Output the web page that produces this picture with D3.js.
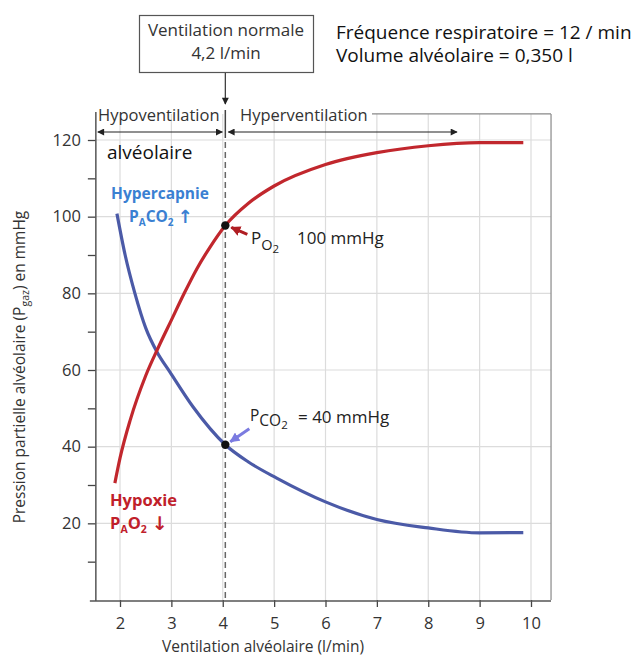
<!DOCTYPE html>
<html>
<head>
<meta charset="utf-8">
<script src="https://cdn.jsdelivr.net/npm/d3@7"></script>
<style>
  body { margin: 0; background: #fff; }
  text { font-family: "Open Sans", sans-serif; }
</style>
</head>
<body>
<svg width="636" height="657"></svg>
<script>
// courbes PAO2 / PACO2 selon la ventilation alvéolaire

var po2Vent = [1.9, 2.0, 2.2, 2.5, 2.75, 3.0, 3.25, 3.5, 3.75, 4.05, 4.5, 5, 6, 7, 8, 9, 9.85];
var po2 = [30.5, 37, 47, 58.5, 66, 73, 80, 86.5, 92, 97.7, 103.5, 108, 113.6, 116.7, 118.5, 119.3, 119.3];

var pco2Vent = [1.94, 2.1, 2.29, 2.5, 2.72, 2.97, 3.42, 4.05, 4.5, 5.05, 6, 7, 8, 9, 9.85];
var pco2 = [100.8, 90, 80, 71, 64.7, 59.5, 50.4, 40.5, 36, 31.8, 25.6, 21, 18.8, 17.5, 17.6];

// point de ventilation normale
var normalVent = 4.05;
var normalPo2 = 97.7;
var normalPco2 = 40.5;

var xTicks = [2, 3, 4, 5, 6, 7, 8, 9, 10];
var yTicks = [10, 20, 30, 40, 50, 60, 70, 80, 90, 100, 110, 120];
var yGrid = [20, 40, 60, 80, 100, 120];

var svg = d3.select("svg");

var x = d3.scaleLinear().domain([2, 10]).range([120, 531]);
var y = d3.scaleLinear().domain([0, 120]).range([600, 140]);

var xMin = 1.53, xMax = 10.39, yTop = 126.8;

var defs = svg.append("defs");
function marker(id, color, w, h) {
  defs.append("marker")
    .attr("id", id)
    .attr("viewBox", "0 0 10 10")
    .attr("refX", 9).attr("refY", 5)
    .attr("markerUnits", "userSpaceOnUse")
    .attr("markerWidth", w).attr("markerHeight", h)
    .attr("orient", "auto-start-reverse")
    .append("path")
    .attr("d", "M0,0 L10,5 L0,10 z")
    .attr("fill", color);
}
marker("ahBlack", "#222", 9, 7);
marker("ahRed", "#b01e23", 10, 10);
marker("ahBlue", "#7b7be0", 10, 10);

// grille
svg.append("g").selectAll("line.v")
  .data(xTicks)
  .enter()
  .append("line")
  .attr("x1", function(d) { return x(d); })
  .attr("x2", function(d) { return x(d); })
  .attr("y1", y(0))
  .attr("y2", y(yTop))
  .attr("stroke", "#dcdcdc")
  .attr("stroke-width", 1.2);

svg.append("g").selectAll("line.h")
  .data(yGrid)
  .enter()
  .append("line")
  .attr("x1", x(xMin))
  .attr("x2", x(xMax))
  .attr("y1", function(d) { return y(d); })
  .attr("y2", function(d) { return y(d); })
  .attr("stroke", "#dcdcdc")
  .attr("stroke-width", 1.2);

// cadre
svg.append("line")
  .attr("x1", x(xMax)).attr("x2", x(xMax))
  .attr("y1", y(0)).attr("y2", y(yTop))
  .attr("stroke", "#888").attr("stroke-width", 1.2);
svg.append("line")
  .attr("x1", 372).attr("x2", x(xMax))
  .attr("y1", y(yTop)).attr("y2", y(yTop))
  .attr("stroke", "#888").attr("stroke-width", 1.2);

// axes
var xAxis = d3.axisBottom(x).tickValues(xTicks).tickSize(7).tickSizeOuter(0);
var gx = svg.append("g").attr("transform", "translate(0," + y(0) + ")").call(xAxis);
gx.select(".domain").remove();
gx.selectAll(".tick line").attr("stroke", "#444").attr("stroke-width", 1.3);
gx.selectAll(".tick text")
  .attr("dy", "1.15em")
  .attr("font-size", 16.5)
  .attr("font-family", "Open Sans")
  .attr("fill", "#333");

var yAxis = d3.axisLeft(y)
  .tickValues(yTicks)
  .tickSize(8)
  .tickSizeOuter(0)
  .tickFormat(function(d) { return d % 20 === 0 ? d : ""; });
var gy = svg.append("g").attr("transform", "translate(" + x(xMin) + ",0)").call(yAxis);
gy.select(".domain").remove();
gy.selectAll(".tick line").attr("stroke", "#444").attr("stroke-width", 1.3);
gy.selectAll(".tick text")
  .attr("x", -15)
  .attr("font-size", 16.5)
  .attr("font-family", "Open Sans")
  .attr("fill", "#333");

svg.append("line")
  .attr("x1", x(xMin)).attr("x2", x(xMin))
  .attr("y1", y(0) + 1).attr("y2", y(yTop) - 2)
  .attr("stroke", "#555").attr("stroke-width", 1.5);
svg.append("line")
  .attr("x1", x(xMin) - 6).attr("x2", x(xMax))
  .attr("y1", y(0) + 1).attr("y2", y(0) + 1)
  .attr("stroke", "#555").attr("stroke-width", 1.5);

// ligne verticale de ventilation normale
svg.append("line")
  .attr("x1", x(normalVent)).attr("x2", x(normalVent))
  .attr("y1", 142).attr("y2", y(0))
  .attr("stroke", "#666").attr("stroke-width", 1.5)
  .attr("stroke-dasharray", "6,4");
svg.append("line")
  .attr("x1", x(normalVent)).attr("x2", x(normalVent))
  .attr("y1", 110).attr("y2", 138)
  .attr("stroke", "#444").attr("stroke-width", 1.5);

// courbes
var po2Line = d3.line()
  .x(function(d, i) { return x(po2Vent[i]); })
  .y(function(d) { return y(d); })
  .curve(d3.curveMonotoneX);
var pco2Line = d3.line()
  .x(function(d, i) { return x(pco2Vent[i]); })
  .y(function(d) { return y(d); })
  .curve(d3.curveMonotoneX);

svg.append("path")
  .attr("d", pco2Line(pco2))
  .attr("fill", "none")
  .attr("stroke", "#4b5aa7")
  .attr("stroke-width", 3.2);
svg.append("path")
  .attr("d", po2Line(po2))
  .attr("fill", "none")
  .attr("stroke", "#c1272d")
  .attr("stroke-width", 3.2);

svg.append("circle").attr("cx", x(normalVent)).attr("cy", y(normalPo2)).attr("r", 4.2).attr("fill", "#111");
svg.append("circle").attr("cx", x(normalVent)).attr("cy", y(normalPco2)).attr("r", 4.2).attr("fill", "#111");

// flèches vers les points
var px = x(normalVent), pyO = y(normalPo2), pyC = y(normalPco2);
svg.append("line")
  .attr("x1", px + 22).attr("y1", pyO + 9)
  .attr("x2", px + 6).attr("y2", pyO + 2)
  .attr("stroke", "#b01e23").attr("stroke-width", 3)
  .attr("marker-end", "url(#ahRed)");
svg.append("line")
  .attr("x1", px + 24).attr("y1", pyC - 16)
  .attr("x2", px + 5).attr("y2", pyC - 3)
  .attr("stroke", "#7b7be0").attr("stroke-width", 3)
  .attr("marker-end", "url(#ahBlue)");

// étiquettes des points
var tO = svg.append("text").attr("x", 251).attr("y", 244).attr("font-size", 17).attr("fill", "#222");
tO.append("tspan").text("P");
tO.append("tspan").attr("dy", 6).attr("font-size", 14.5).text("O");
tO.append("tspan").attr("dy", 3).attr("font-size", 11.5).text("2");
svg.append("text").attr("x", 297).attr("y", 244).attr("font-size", 17).attr("fill", "#222").text("100 mmHg");

var tC = svg.append("text").attr("x", 250).attr("y", 421).attr("font-size", 15.5).attr("fill", "#222");
tC.append("tspan").text("P");
tC.append("tspan").attr("dy", 5).attr("font-size", 15.5).text("CO");
tC.append("tspan").attr("dy", 3).attr("font-size", 11.5).text("2");
svg.append("text").attr("x", 298).attr("y", 423).attr("font-size", 17).attr("fill", "#222").text("= 40 mmHg");

// textes hypercapnie / hypoxie
var blue = "#3a80d2", red = "#c0202a";
svg.append("text").attr("x", 160).attr("y", 199).attr("text-anchor", "middle")
  .attr("font-family", "Roboto").attr("font-weight", "bold").attr("font-size", 15.5)
  .attr("fill", blue).text("Hypercapnie");
var hc = svg.append("text").attr("x", 129).attr("y", 222)
  .attr("font-family", "Roboto").attr("font-weight", "bold").attr("font-size", 15.5).attr("fill", blue);
hc.append("tspan").text("P");
hc.append("tspan").attr("dy", 4).attr("font-size", 10).text("A");
hc.append("tspan").attr("dy", -4).text("CO");
hc.append("tspan").attr("dy", 4).attr("font-size", 10).text("2");
hc.append("tspan").attr("dy", -3).attr("dx", 4).attr("font-family", "DejaVu Sans").attr("font-size", 18).text("↑");

svg.append("text").attr("x", 110).attr("y", 506)
  .attr("font-family", "Roboto").attr("font-weight", "bold").attr("font-size", 16.5)
  .attr("fill", red).text("Hypoxie");
var hx = svg.append("text").attr("x", 110).attr("y", 529)
  .attr("font-family", "Roboto").attr("font-weight", "bold").attr("font-size", 16.5).attr("fill", red);
hx.append("tspan").text("P");
hx.append("tspan").attr("dy", 4).attr("font-size", 10.5).text("A");
hx.append("tspan").attr("dy", -4).text("O");
hx.append("tspan").attr("dy", 4).attr("font-size", 10.5).text("2");
hx.append("tspan").attr("dy", -3).attr("dx", 5).attr("font-family", "DejaVu Sans").attr("font-size", 19).text("↓");

// hypo / hyperventilation
svg.append("text").attr("x", 98).attr("y", 121).attr("font-size", 16.5).attr("fill", "#333").text("Hypoventilation");
svg.append("text").attr("x", 240).attr("y", 121).attr("font-size", 16.5).attr("fill", "#333").text("Hyperventilation");
svg.append("line")
  .attr("x1", x(xMin) + 2).attr("x2", x(normalVent) - 3)
  .attr("y1", 132).attr("y2", 132)
  .attr("stroke", "#222").attr("stroke-width", 1.2)
  .attr("marker-start", "url(#ahBlack)").attr("marker-end", "url(#ahBlack)");
svg.append("line")
  .attr("x1", x(normalVent) + 3).attr("x2", 457)
  .attr("y1", 132).attr("y2", 132)
  .attr("stroke", "#222").attr("stroke-width", 1.2)
  .attr("marker-start", "url(#ahBlack)").attr("marker-end", "url(#ahBlack)");

svg.append("text").attr("x", 107).attr("y", 159).attr("font-family", "Lato").attr("font-size", 19).attr("fill", "#111").text("alvéolaire");

// boîte ventilation normale
svg.append("rect").attr("x", 139.5).attr("y", 15.5).attr("width", 174).attr("height", 57)
  .attr("fill", "#fff").attr("stroke", "#555").attr("stroke-width", 1.2);
svg.append("text").attr("x", 226).attr("y", 36).attr("text-anchor", "middle").attr("font-family", "Lato").attr("font-size", 17).attr("fill", "#333").text("Ventilation normale");
svg.append("text").attr("x", 226).attr("y", 59).attr("text-anchor", "middle").attr("font-family", "Lato").attr("font-size", 17).attr("fill", "#333").text("4,2 l/min");
svg.append("line")
  .attr("x1", x(normalVent)).attr("x2", x(normalVent))
  .attr("y1", 73).attr("y2", 104)
  .attr("stroke", "#333").attr("stroke-width", 1.2)
  .attr("marker-end", "url(#ahBlack)");

// paramètres
svg.append("text").attr("x", 336).attr("y", 38.5).attr("font-family", "Lato").attr("font-size", 19).attr("fill", "#111").text("Fréquence respiratoire = 12 / min");
svg.append("text").attr("x", 336).attr("y", 62).attr("font-family", "Lato").attr("font-size", 19).attr("fill", "#111").text("Volume alvéolaire = 0,350 l");

// titres des axes
svg.append("text").attr("x", 263).attr("y", 652).attr("text-anchor", "middle").attr("font-size", 15.5).attr("fill", "#333").text("Ventilation alvéolaire (l/min)");
var yt = svg.append("text")
  .attr("transform", "translate(25,367) rotate(-90)")
  .attr("text-anchor", "middle").attr("font-size", 15.5).attr("fill", "#333");
yt.append("tspan").text("Pression partielle alvéolaire (P");
yt.append("tspan").attr("dy", 4).attr("font-size", 10.5).text("gaz");
yt.append("tspan").attr("dy", -4).text(") en mmHg");
</script>
</body>
</html>
